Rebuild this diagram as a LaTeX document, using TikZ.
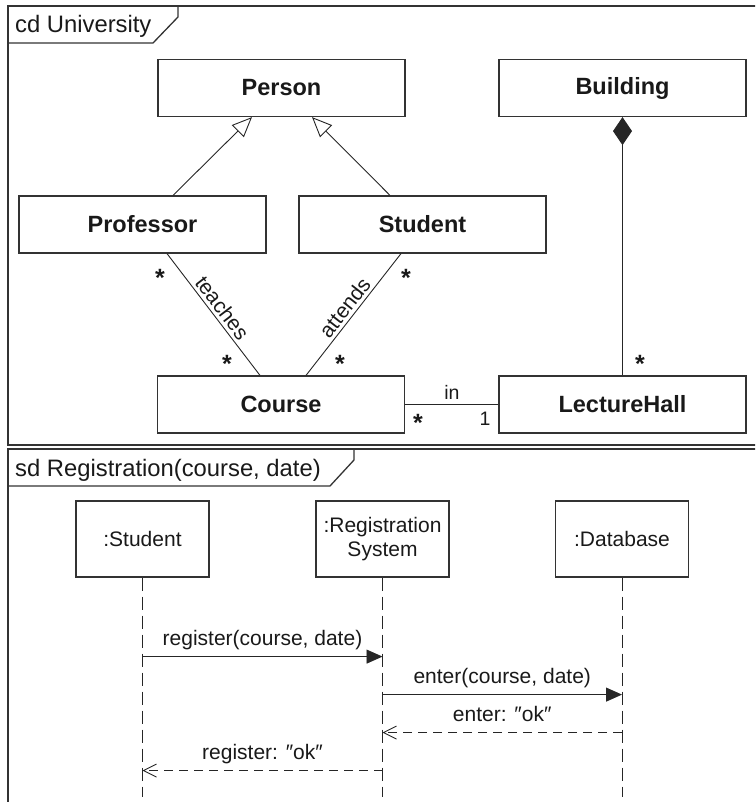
\documentclass[tikz,border=0pt]{standalone}
\usepackage{fontspec}
\setmainfont{Liberation Sans}
\usetikzlibrary{arrows.meta,calc}
\begin{document}
\begin{tikzpicture}[x=1pt,y=-1pt,
 frame/.style={draw=black!80, line width=1.3pt},
 cls/.style={draw=black!80, line width=1.2pt, minimum width=247pt, minimum height=57pt, inner sep=0pt, font=\fontsize{23.5}{27}\selectfont\bfseries, text=black!90},
 obj/.style={draw=black!80, line width=1.2pt, minimum width=133pt, minimum height=76pt, inner sep=0pt, align=center, font=\fontsize{21}{24}\selectfont, text=black!90},
 assoc/.style={draw=black!85, line width=0.9pt},
 gen/.style={assoc, -{Triangle[open, fill=white, length=20pt, width=17pt]}},
 comp/.style={assoc, {Diamond[length=28pt, width=19pt]}-},
 lab/.style={font=\fontsize{21}{24}\selectfont, inner sep=0pt, text=black!90},
 slab/.style={font=\fontsize{19.5}{23}\selectfont, inner sep=0pt, text=black!90},
 flab/.style={font=\fontsize{23.8}{27}\selectfont, inner sep=0pt, text=black!90, anchor=west},
 mult/.style={font=\fontsize{25}{28}\selectfont\bfseries, inner sep=0pt, text=black!90},
 lifeline/.style={assoc, dash pattern=on 13pt off 6pt},
 msg/.style={assoc, -{Triangle[length=16pt, width=14pt]}},
 reply/.style={assoc, dash pattern=on 9pt off 6pt, -{Straight Barb[length=13pt, width=13pt]}},
 mlab/.style={lab, text height=15.5pt, text depth=4.5pt}
]
\useasboundingbox (0,0) rectangle (755,802);
\clip (0,0) rectangle (755,802);

% ---------- class diagram frame ----------
\draw[frame] (8,6) rectangle (770,445);
\draw[frame] (8,43) -- (153,43) -- (178,17) -- (178,6);
\node[flab] (cdlabel) at (15,26) {cd University};

\node[cls] (person) at (281.5,88) {Person};
\node[cls] (building) at (622.5,88) {Building};
\node[cls] (prof) at (142.5,224.5) {Professor};
\node[cls] (student) at (422.5,224.5) {Student};
\node[cls] (course) at (281,404.5) {Course};
\node[cls] (hall) at (622.5,404.5) {LectureHall};

\draw[gen] ([xshift=30.5pt]prof.north) -- ([xshift=-29.5pt]person.south);
\draw[gen] ([xshift=-32.5pt]student.north) -- ([xshift=30.5pt]person.south);
\draw[comp] (building.south) -- (hall.north);

\draw[assoc] ([xshift=24.5pt]prof.south) -- node[lab, sloped, above=3pt] {teaches} ([xshift=-21pt]course.north);
\draw[assoc] ([xshift=25pt]course.north) -- node[lab, sloped, above=3pt] {attends} ([xshift=-21.5pt]student.south);
\draw[assoc] (course.east) -- (hall.west);

\node[mult] (m1) at (160,277.5) {*};
\node[mult] (m2) at (227,363.5) {*};
\node[mult] (m3) at (406,277.5) {*};
\node[mult] (m4) at (340,363.5) {*};
\node[mult] (m5) at (640,363.5) {*};
\node[mult] (m6) at (418,422.5) {*};
\node[slab] (one) at (485,419) {1};
\node[slab] (in) at (452,392) {in};

% ---------- sequence diagram frame ----------
\draw[frame] (8,449) rectangle (770,830);
\draw[frame] (8,486) -- (330,486) -- (354,460) -- (354,449);
\node[flab] (sdlabel) at (15,470) {sd Registration(course, date)};

\node[obj] (ostu) at (142.5,539) {:Student};
\node[obj] (oreg) at (382.5,539) {:Registration\\System};
\node[obj] (odb) at (622,539) {:Database};

\coordinate (estu) at (142.5,797);
\coordinate (ereg) at (382.5,797);
\coordinate (edb) at (622,797);
\draw[lifeline] (ostu.south) -- (estu);
\draw[lifeline] (oreg.south) -- (ereg);
\draw[lifeline] (odb.south) -- (edb);

\coordinate (s1) at ($(ostu.south)+(0,79)$);
\coordinate (r1) at ($(oreg.south)+(0,79)$);
\coordinate (r2) at ($(oreg.south)+(0,117)$);
\coordinate (d2) at ($(odb.south)+(0,117)$);
\coordinate (d3) at ($(odb.south)+(0,155)$);
\coordinate (r3) at ($(oreg.south)+(0,155)$);
\coordinate (r4) at ($(oreg.south)+(0,193)$);
\coordinate (s4) at ($(ostu.south)+(0,193)$);

\draw[msg] (s1) -- node[mlab, above=6pt] {register(course, date)} (r1);
\draw[msg] (r2) -- node[mlab, above=6pt] {enter(course, date)} (d2);
\draw[reply] (d3) -- node[mlab, above=6pt] {enter: ″ok″} (r3);
\draw[reply] (r4) -- node[mlab, above=6pt] {register: ″ok″} (s4);
\end{tikzpicture}
\end{document}
